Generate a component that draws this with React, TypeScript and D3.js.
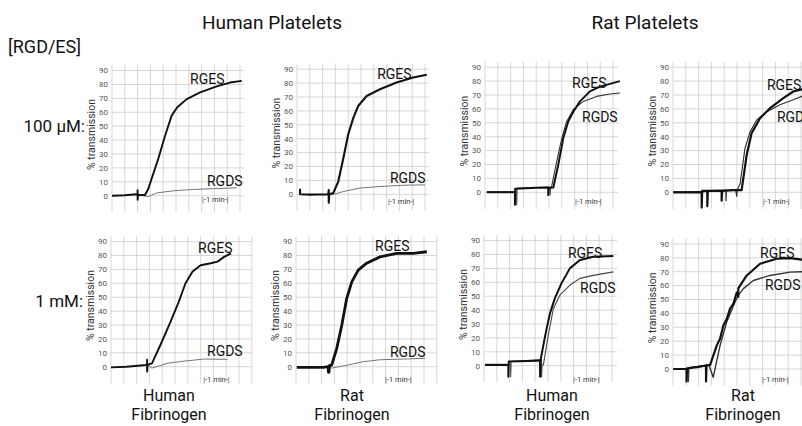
import React from "react";
import * as d3 from "d3";

type Pt = [number, number];

// ---- tick labels / texts ----
const yTicks = [0, 10, 20, 30, 40, 50, 60, 70, 80, 90];
const timeLabel = "|-1 min-|";
const yAxisLabel = "% transmission";
const seriesNames = ["RGES", "RGDS"];
const columnTitles = ["Human Platelets", "Rat Platelets"];
const rowLabels = ["100 µM:", "1 mM:"];
const fibrinogenLabels = [["Human", "Fibrinogen"], ["Rat", "Fibrinogen"], ["Human", "Fibrinogen"], ["Rat", "Fibrinogen"]];

// ---- series values: [time (min), % transmission] ----
// Row 1 (100 µM)
const p1RGES: Pt[] = [[0, 0], [0.5, 0.3], [0.96, 1], [1.0, 1], [1.0, 4], [1.0, -3], [1.02, 0.5], [1.29, 0.5], [1.42, 5], [1.55, 12.4], [1.81, 26.7], [2.07, 43], [2.33, 57.6], [2.55, 63.6], [2.92, 69.5], [3.44, 74.3], [4.09, 78.6], [4.61, 81.4], [5.07, 82.6]];
const p1RGDS: Pt[] = [[1.1, 0.5], [1.41, -0.7], [1.75, 2], [2.39, 3.5], [2.9, 4.2], [3.44, 4.7], [4.61, 5.5], [4.87, 5.7]];
const p2RGES: Pt[] = [[0.12, 4], [0.12, 0], [0.5, -0.2], [1.22, 0], [1.24, 3], [1.24, -6], [1.26, 0], [1.42, 1], [1.61, 9], [1.81, 26], [2.0, 43], [2.2, 55], [2.39, 63.5], [2.72, 70.7], [3.24, 75.6], [3.89, 80.4], [4.54, 84], [5.07, 86]];
const p2RGDS: Pt[] = [[1.26, 0], [1.36, -0.5], [1.81, 2], [2.46, 4.5], [3.24, 5.6], [4.15, 6.5], [5.0, 6.8]];
const p3RGES: Pt[] = [[0.07, 0], [1.17, 0], [1.17, -9], [1.18, 2.5], [2.0, 3.2], [2.47, 3.5], [2.47, -2], [2.49, 3], [2.67, 3.5], [2.86, 19.7], [3.06, 39], [3.25, 51], [3.45, 58], [3.71, 65.4], [4.1, 72.6], [4.49, 76], [4.88, 78], [5.27, 80]];
const p3RGDS: Pt[] = [[0.07, 0.3], [1.24, 0.3], [1.24, -9], [1.25, 2.8], [2.0, 3.5], [2.54, 3.8], [2.54, -2], [2.56, 3.5], [2.6, 4], [2.8, 22], [3.0, 39], [3.19, 51], [3.45, 59.6], [3.84, 65.4], [4.36, 69], [4.88, 70.7], [5.27, 71.4]];
const p4RGES: Pt[] = [[0.01, 0], [1.12, 0], [1.12, -11], [1.14, 1], [1.34, 1], [1.34, -10], [1.36, 1], [1.9, 1.2], [1.9, -6], [1.92, 1.2], [2.4, 1.5], [2.68, 1.5], [2.88, 27], [3.07, 42.5], [3.4, 53.3], [3.79, 60.5], [4.31, 67.7], [4.7, 72.5], [5.03, 74], [5.3, 75]];
const p4RGDS: Pt[] = [[0.01, 0.3], [1.2, 0.5], [2.07, 1], [2.07, -6], [2.09, 1.2], [2.45, 1.5], [2.49, -3], [2.51, 2], [2.62, 6], [2.81, 31.5], [3.01, 43.5], [3.27, 52], [3.66, 58], [4.18, 63], [4.7, 66.6], [5.03, 69], [5.3, 70]];
// Row 2 (1 mM)
const p5RGES: Pt[] = [[0, -0.5], [0.6, 0], [1.27, 1], [1.41, 1.5], [1.41, 5], [1.41, -3.5], [1.43, 1.5], [1.6, 2.4], [1.93, 15.6], [2.32, 32], [2.65, 46.8], [2.91, 60], [3.18, 68.3], [3.5, 73], [3.9, 74.4], [4.16, 75.6], [4.42, 79], [4.69, 81.5]];
const p5RGDS: Pt[] = [[1.45, 1], [1.6, -1], [2.19, 2.4], [2.85, 4], [3.63, 5.5], [4.56, 5.3]];
const p6RGES: Pt[] = [[0.03, -0.5], [1.07, -0.5], [1.25, 0], [1.27, -4], [1.29, -4], [1.31, 1], [1.39, 1], [1.59, 13], [1.79, 30], [1.98, 49], [2.18, 61], [2.43, 69.5], [2.76, 74.5], [3.28, 79], [3.93, 81.5], [4.58, 81.5], [5.11, 82.7]];
const p6RGDS: Pt[] = [[1.31, 0], [1.39, -1], [1.98, 1], [2.63, 3.6], [3.28, 5], [4.19, 5.5], [5.04, 6]];
const p7RGES: Pt[] = [[0.04, 0.5], [0.95, 0.5], [0.95, -8], [0.97, 3], [2.1, 3.5], [2.19, 4], [2.19, -8], [2.21, 4], [2.32, 15], [2.45, 27], [2.58, 37.8], [2.77, 48.6], [3.03, 59.4], [3.36, 70.2], [3.75, 76], [4.27, 78.4], [5.05, 79]];
const p7RGDS: Pt[] = [[0.04, 1], [1.04, 1], [1.04, -8], [1.06, 3], [2.25, 4.5], [2.25, -8], [2.27, 0.5], [2.32, 0.5], [2.51, 22], [2.71, 41], [2.97, 51], [3.36, 58], [3.75, 62.8], [4.27, 65], [5.05, 67.5]];
const p8RGES: Pt[] = [[0.01, 0], [0.53, 0], [0.53, -9], [0.55, 0.5], [1.0, 1.5], [1.29, 2.5], [1.29, -9], [1.31, 2.5], [1.45, 3], [1.71, 17], [1.84, 22], [1.97, 31.5], [2.1, 36], [2.23, 43.4], [2.36, 47], [2.49, 55], [2.55, 52], [2.55, 58], [2.88, 67.3], [3.4, 75.7], [4.05, 79.3], [4.57, 79.7], [5.03, 78.7], [5.3, 78]];
const p8RGDS: Pt[] = [[0.01, 0.3], [0.6, 0.3], [0.6, -9], [0.62, 1], [1.38, 3], [1.42, 2], [1.57, -6], [1.84, 17], [2.1, 34], [2.42, 48], [2.55, 53], [2.75, 57.8], [3.14, 63.7], [3.79, 67.3], [4.57, 69.7], [5.03, 70], [5.3, 70]];

// label anchors [time, value]
const rgesLabelAt: Pt[] = [[3.05, 80.4], [3.13, 83], [3.4, 75], [3.67, 73.6], [3.4, 81.8], [3.09, 83.2], [3.28, 77.5], [3.4, 79.9]];
const rgdsLabelAt: Pt[] = [[3.71, 7], [3.63, 8.1], [3.79, 50.6], [4.06, 50.6], [3.75, 7.7], [3.67, 7], [3.75, 52.3], [3.59, 56.8]];
const minuteMarkAt: Pt[] = [[3.52, -4.5], [3.55, -7], [3.52, -8.6], [3.52, -8.6], [3.6, -10.8], [3.48, -10.8], [3.48, -11.5], [3.48, -9]];

const rgesSeries = [p1RGES, p2RGES, p3RGES, p4RGES, p5RGES, p6RGES, p7RGES, p8RGES];
const rgdsSeries = [p1RGDS, p2RGDS, p3RGDS, p4RGDS, p5RGDS, p6RGDS, p7RGDS, p8RGDS];

// ---- layout ----
const layout = [
  { left: 112, zero: 195.7, tMax: 5.15 },
  { left: 297, zero: 194.3, tMax: 5.15 },
  { left: 485, zero: 192.3, tMax: 5.2 },
  { left: 673, zero: 192.3, tMax: 5.5 },
  { left: 111, zero: 366.7, tMax: 5.5 },
  { left: 296, zero: 366.7, tMax: 5.5 },
  { left: 484, zero: 365.7, tMax: 5.2 },
  { left: 673, zero: 369, tMax: 5.5 },
];
const pxPerMin = 25.6;
const pxPer10 = 13.9;
const rgesStyle = [1.9, 2.1, 2.0, 2.2, 1.9, 2.8, 2.0, 2.2];
const rgdsStyle = [
  { c: "#777", w: 1 }, { c: "#777", w: 1 }, { c: "#333", w: 1.1 }, { c: "#333", w: 1.2 },
  { c: "#777", w: 1 }, { c: "#777", w: 1 }, { c: "#444", w: 1.1 }, { c: "#333", w: 1.4 },
];
const FONT = "Roboto, 'Open Sans', sans-serif";

function Panel({ i }: { i: number }) {
  const L = layout[i];
  const xs = d3.scaleLinear().domain([0, 1]).range([L.left, L.left + pxPerMin]);
  const ys = d3.scaleLinear().domain([0, 10]).range([L.zero, L.zero - pxPer10]);
  const line = d3.line<Pt>().x((d) => xs(d[0])).y((d) => ys(d[1])).curve(d3.curveLinear);
  const vLines = d3.range(0, L.tMax + 0.001, 0.5);
  const yMid = ys(44);
  const labelX = L.left - 17;
  return (
    <g>
      {yTicks.map((v) => (
        <line key={"h" + v} x1={xs(0)} x2={xs(L.tMax)} y1={ys(v)} y2={ys(v)} stroke="#c6c6c6" strokeWidth={0.7} />
      ))}
      {vLines.map((t) => (
        <line key={"v" + t} x1={xs(t)} x2={xs(t)} y1={ys(-12)} y2={ys(94)} stroke="#c6c6c6" strokeWidth={0.7} />
      ))}
      {yTicks.map((v) => (
        <text key={"t" + v} x={L.left - 4} y={ys(v)} dy="0.35em" textAnchor="end" fontSize={8} fill="#555" fontFamily={FONT}>
          {v}
        </text>
      ))}
      <text x={labelX} y={yMid} transform={`rotate(-90 ${labelX} ${yMid})`} textAnchor="middle" fontSize={10.5} fill="#333" fontFamily={FONT}>
        {yAxisLabel}
      </text>
      <path d={line(rgdsSeries[i]) || ""} fill="none" stroke={rgdsStyle[i].c} strokeWidth={rgdsStyle[i].w} strokeLinejoin="round" />
      <path d={line(rgesSeries[i]) || ""} fill="none" stroke="#111" strokeWidth={rgesStyle[i]} strokeLinejoin="round" />
      <text x={xs(rgesLabelAt[i][0])} y={ys(rgesLabelAt[i][1])} fontSize={14} fill="#111" fontFamily={FONT}>
        {seriesNames[0]}
      </text>
      <text x={xs(rgdsLabelAt[i][0])} y={ys(rgdsLabelAt[i][1])} fontSize={14} fill="#111" fontFamily={FONT}>
        {seriesNames[1]}
      </text>
      <text x={xs(minuteMarkAt[i][0])} y={ys(minuteMarkAt[i][1])} fontSize={7.5} fill="#333" fontFamily={FONT}>
        {timeLabel}
      </text>
    </g>
  );
}

export default function App() {
  const bottomX = [169, 352, 552, 743];
  return (
    <svg width={802} height={426} style={{ position: "absolute", left: 0, top: 0, background: "#fff" }}>
      <rect width={802} height={426} fill="#fff" />
      <text x={272} y={29} textAnchor="middle" fontSize={19} fill="#111" fontFamily={FONT}>{columnTitles[0]}</text>
      <text x={645} y={29} textAnchor="middle" fontSize={19} fill="#111" fontFamily={FONT}>{columnTitles[1]}</text>
      <text x={8} y={53} fontSize={18} fill="#111" fontFamily={FONT}>[RGD/ES]</text>
      <text x={85} y={132} textAnchor="end" fontSize={17} fill="#111" fontFamily={FONT}>{rowLabels[0]}</text>
      <text x={83} y={307} textAnchor="end" fontSize={17} fill="#111" fontFamily={FONT}>{rowLabels[1]}</text>
      {layout.map((_, i) => (
        <Panel key={i} i={i} />
      ))}
      {fibrinogenLabels.map((lab, j) => (
        <g key={"f" + j}>
          <text x={bottomX[j]} y={401} textAnchor="middle" fontSize={16} fill="#111" fontFamily={FONT}>{lab[0]}</text>
          <text x={bottomX[j]} y={420} textAnchor="middle" fontSize={16} fill="#111" fontFamily={FONT}>{lab[1]}</text>
        </g>
      ))}
    </svg>
  );
}
